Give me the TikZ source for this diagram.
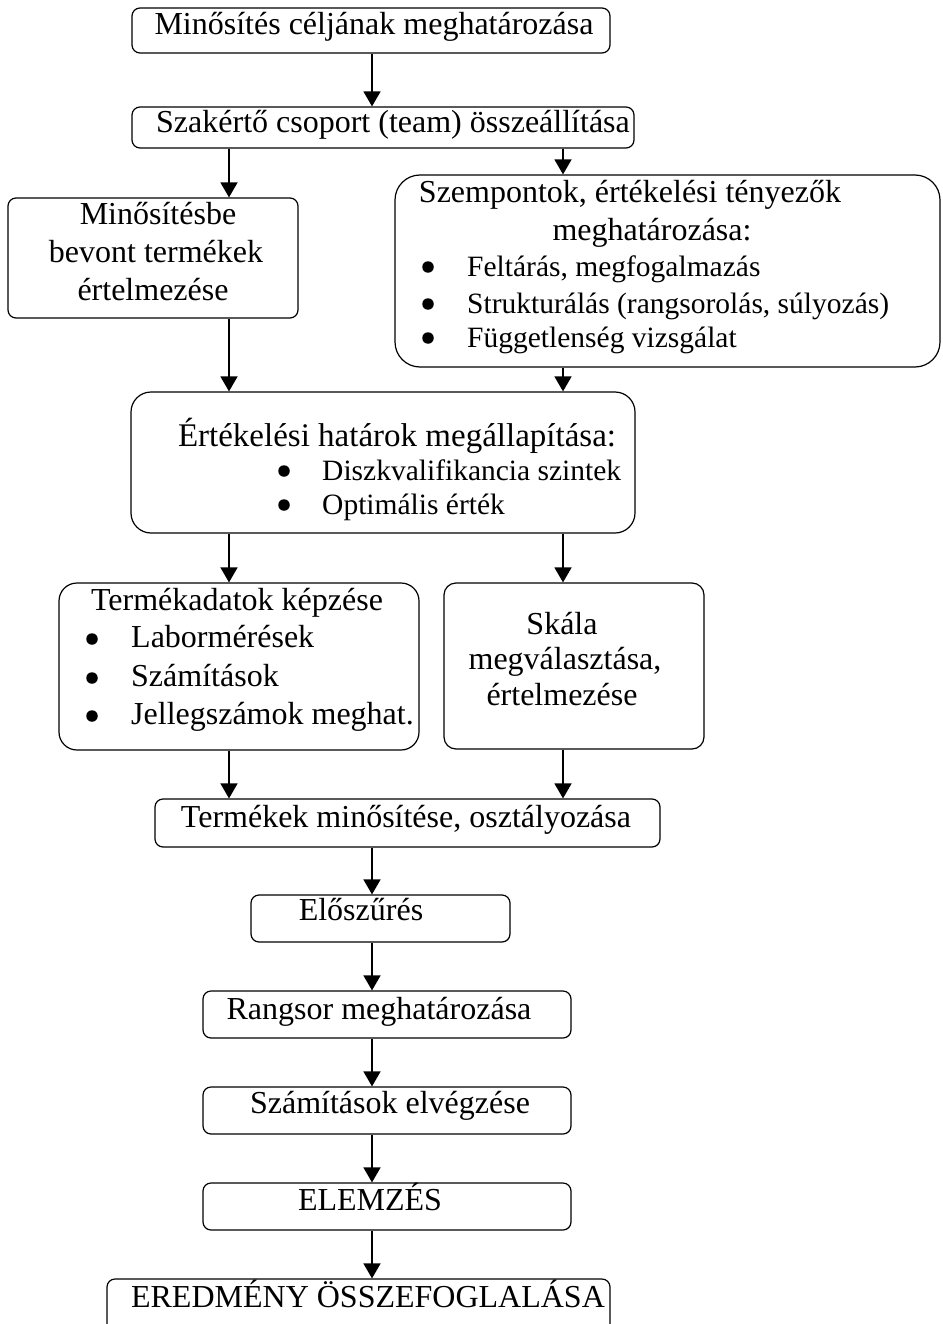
\documentclass[tikz,border=0pt]{standalone}
\usepackage{fontspec}
\setmainfont{Liberation Serif}
\usetikzlibrary{arrows.meta}
\begin{document}
\begin{tikzpicture}[x=1pt,y=-1pt,
  box/.style={draw, line width=1.2pt, rounded corners=8pt, inner sep=0pt},
  txt/.style={inner sep=0pt, font=\fontsize{32}{37}\selectfont, text height=22pt, text depth=7pt},
  stxt/.style={inner sep=0pt, font=\fontsize{29.5}{34}\selectfont, text height=21pt, text depth=6pt},
  btxt/.style={inner sep=0pt, font=\fontsize{33}{38}\selectfont, text height=23pt, text depth=7pt},
  dot/.style={circle, fill, inner sep=0pt, minimum size=11.5pt},
  arr/.style={line width=1.6pt, -{Triangle[width=17pt,length=15pt]}}
]
\useasboundingbox (0,0) rectangle (942,1324);
\coordinate (cL) at (229,0);
\coordinate (cR) at (563,0);
\coordinate (cM) at (372,0);

% boxes
\node[box, minimum width=478pt, minimum height=45pt] (b1) at (371,30.5) {};
\node[box, minimum width=502pt, minimum height=41pt] (b2) at (383,127.5) {};
\node[box, minimum width=290pt, minimum height=120pt] (b3) at (153,258) {};
\node[box, rounded corners=25pt, minimum width=545pt, minimum height=192pt] (b4) at (667.5,271) {};
\node[box, rounded corners=20pt, minimum width=504pt, minimum height=141pt] (b5) at (383,462.5) {};
\node[box, rounded corners=18pt, minimum width=360pt, minimum height=167pt] (b6) at (239,666.5) {};
\node[box, rounded corners=12pt, minimum width=260pt, minimum height=166pt] (b7) at (574,666) {};
\node[box, minimum width=505pt, minimum height=48pt] (b8) at (407.5,823) {};
\node[box, minimum width=259pt, minimum height=47pt] (b9) at (380.5,918.5) {};
\node[box, minimum width=368pt, minimum height=47pt] (b10) at (387,1014.5) {};
\node[box, minimum width=368pt, minimum height=47pt] (b11) at (387,1110.5) {};
\node[box, minimum width=368pt, minimum height=47pt] (b12) at (387,1206.5) {};
\node[box, minimum width=503pt, minimum height=56pt] (b13) at (358.5,1307) {};

% texts
\node[txt] (t1) at (374,27) {Minősítés céljának meghatározása};
\node[txt] (t2) at (393,125) {Szakértő csoport (team) összeállítása};
\node[txt] (t3a) at (158,217) {Minősítésbe};
\node[txt] (t3b) at (156,255) {bevont termékek};
\node[txt] (t3c) at (153,293) {értelmezése};
\node[txt] (t4a) at (630,195) {Szempontok, értékelési tényezők};
\node[txt] (t4b) at (652,233) {meghatározása:};
\node[dot] (t4c) at (428,267) {};
\node[stxt, anchor=west] (t4d) at (467,269) {Feltárás, megfogalmazás};
\node[dot] (t4e) at (428,304) {};
\node[stxt, anchor=west] (t4f) at (467,306) {Strukturálás (rangsorolás, súlyozás)};
\node[dot] (t4g) at (428,338) {};
\node[stxt, anchor=west] (t4h) at (467,340) {Függetlenség vizsgálat};
\node[btxt] (t5a) at (397,438) {Értékelési határok megállapítása:};
\node[dot] (t5b) at (284,471) {};
\node[stxt, anchor=west] (t5c) at (322,473) {Diszkvalifikancia szintek};
\node[dot] (t5d) at (284,505) {};
\node[stxt, anchor=west] (t5e) at (322,507) {Optimális érték};
\node[txt] (t6a) at (237,603) {Termékadatok képzése};
\node[dot] (t6b) at (92,639) {};
\node[txt, anchor=west] (t6c) at (131,640) {Labormérések};
\node[dot] (t6d) at (92,678) {};
\node[txt, anchor=west] (t6e) at (131,679) {Számítások};
\node[dot] (t6f) at (92,716) {};
\node[txt, anchor=west] (t6g) at (131,717) {Jellegszámok meghat.};
\node[txt] (t7a) at (562,627) {Skála};
\node[txt] (t7b) at (565,662) {megválasztása,};
\node[txt] (t7c) at (562,698) {értelmezése};
\node[txt] (t8) at (406,820) {Termékek minősítése, osztályozása};
\node[txt] (t9) at (361,913) {Előszűrés};
\node[txt] (t10) at (379,1012) {Rangsor meghatározása};
\node[txt] (t11) at (390,1106) {Számítások elvégzése};
\node[txt] (t12) at (370,1203) {ELEMZÉS};
\node[txt] (t13) at (368,1300) {EREDMÉNY ÖSSZEFOGLALÁSA};

% arrows
\draw[arr] (b1.south -| cM) -- (b2.north -| cM);
\draw[arr] (b2.south -| cL) -- (b3.north -| cL);
\draw[arr] (b2.south -| cR) -- (b4.north -| cR);
\draw[arr] (b3.south -| cL) -- (b5.north -| cL);
\draw[arr] (b4.south -| cR) -- (b5.north -| cR);
\draw[arr] (b5.south -| cL) -- (b6.north -| cL);
\draw[arr] (b5.south -| cR) -- (b7.north -| cR);
\draw[arr] (b6.south -| cL) -- (b8.north -| cL);
\draw[arr] (b7.south -| cR) -- (b8.north -| cR);
\draw[arr] (b8.south -| cM) -- (b9.north -| cM);
\draw[arr] (b9.south -| cM) -- (b10.north -| cM);
\draw[arr] (b10.south -| cM) -- (b11.north -| cM);
\draw[arr] (b11.south -| cM) -- (b12.north -| cM);
\draw[arr] (b12.south -| cM) -- (b13.north -| cM);
\end{tikzpicture}
\end{document}
